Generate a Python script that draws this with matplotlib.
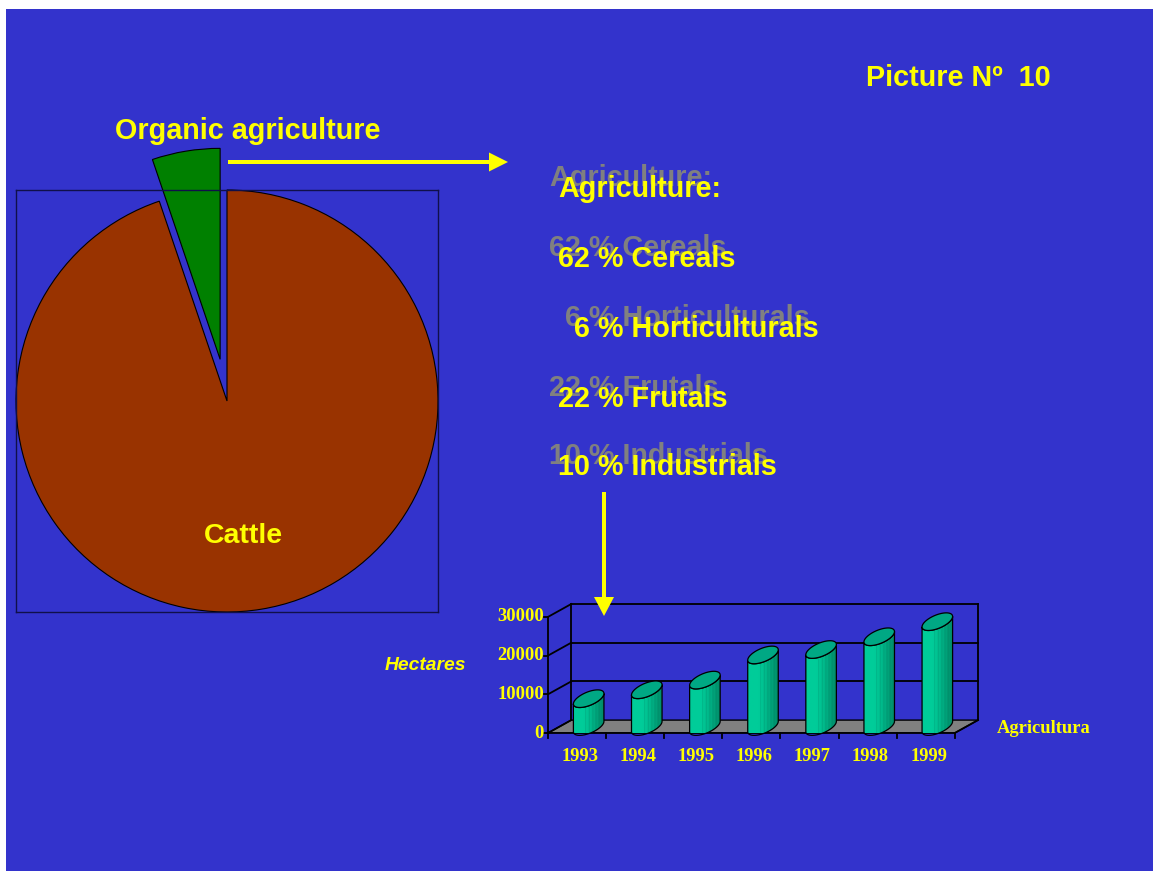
import numpy as np
import matplotlib
matplotlib.use("Agg")
import matplotlib.pyplot as plt
from matplotlib.patches import Rectangle, Polygon
import matplotlib.colors as mcolors

# ---- data ----
pie_labels = ['Organic agriculture', 'Cattle']
pie_shares = [5.2, 94.8]

agri_lines = ['Agriculture:', '62 % Cereals', '  6 % Horticulturals', '22 % Frutals', '10 % Industrials']

years = ['1993', '1994', '1995', '1996', '1997', '1998', '1999']
hectares = [7200, 9500, 12000, 18500, 19900, 23200, 27100]
yticks = [0, 10000, 20000, 30000]
series_name = 'Agricultura'
y_title = 'Hectares'
slide_title = 'Picture Nº  10'

# ---- style ----
BLUE = '#3333CC'
YEL = '#FFFF00'
W, H = 1153, 871
plt.rcParams['font.family'] = ['Liberation Sans', 'DejaVu Sans']

fig = plt.figure(figsize=(W / 100, H / 100), dpi=100)
fig.patch.set_facecolor('white')
fig.patches.append(Rectangle((6, 0), W - 6, H - 9, transform=None,
                             facecolor=BLUE, edgecolor='none', zorder=-5))


def fig_rect(x0, y0, x1, y1):
    return [x0 / W, 1 - y1 / H, (x1 - x0) / W, (y1 - y0) / H]


# ---- pie ----
axp = fig.add_axes(fig_rect(16, 190, 438, 612), zorder=2)
wedges, _ = axp.pie(pie_shares, colors=['#008000', '#993300'], startangle=90,
                    counterclock=True, explode=[0.2, 0], radius=1, frame=True,
                    wedgeprops=dict(edgecolor='black', linewidth=0.8))
for w in wedges:
    w.set_clip_on(False)
axp.set_facecolor(BLUE)
axp.set_frame_on(True)
for s in axp.spines.values():
    s.set_visible(True)
    s.set_color('#10104a')
    s.set_linewidth(1.0)
axp.set_xticks([])
axp.set_yticks([])
axp.set_xlim(-1, 1)
axp.set_ylim(-1, 1)
axp.text(0.076, -0.64, pie_labels[1], color=YEL, fontsize=20.5, fontweight='bold',
         ha='center', va='center')

# ---- pseudo 3D cylinder chart ----
axb = fig.add_axes(fig_rect(548, 604, 978, 733), zorder=2)
axb.axis('off')
DX, DY = 0.4, 3333.0
n = len(years)
x0, x1 = -0.5, n - 0.5
px = 30000 / 117.0  # value units per pixel

floor = Polygon([(x0, 0), (x1, 0), (x1 + DX, DY), (x0 + DX, DY)],
                closed=True, facecolor='#808080', edgecolor='black', lw=1.0, zorder=1)
axb.add_patch(floor)
lk = dict(color='black', lw=1.3, clip_on=False, zorder=1.5)
for v in yticks:
    if v > 0:
        axb.plot([x0 + DX, x1 + DX], [v + DY, v + DY], **lk)
    axb.plot([x0, x0 + DX], [v, v + DY], **lk)
    axb.plot([x0 - 0.07, x0], [v, v], **lk)
    axb.text(x0 - 0.07, v, f'{v}', ha='right', va='center', color=YEL,
             fontsize=13.3, fontweight='bold', family='Liberation Serif')
axb.plot([x0 + DX, x0 + DX], [DY, yticks[-1] + DY], **lk)
axb.plot([x1 + DX, x1 + DX], [DY, yticks[-1] + DY], **lk)
axb.plot([x0, x0], [0, yticks[-1]], **lk)
axb.plot([x0, x1], [0, 0], **lk)
axb.plot([x1, x1 + DX], [0, DY], **lk)
for i in range(n + 1):
    axb.plot([i - 0.5, i - 0.5], [0, -5 * px], **lk)
for i, yr in enumerate(years):
    axb.text(i + 0.05, -28 * px, yr, ha='center', va='baseline', color=YEL,
             fontsize=13.3, fontweight='bold', family='Liberation Serif')
axb.text(x1 + 0.72, 0, series_name, ha='left', va='baseline', color=YEL,
         fontsize=13.3, fontweight='bold', family='Liberation Serif')

UX, UY = 0.258, 1667.0
VX, VY = -0.05, 1550.0
t0 = np.arctan2(VX, UX)
ext_x = np.hypot(UX, VX)
ext_y = np.hypot(UY, VY)

# horizontal shading for cylinder bodies
light = np.array(mcolors.to_rgb('#00CC99'))
dark = np.array(mcolors.to_rgb('#008F6B'))
s = np.linspace(0, 1, 60)
mix = np.clip((s - 0.35) / 0.6, 0, 1) ** 1.2
grad = light[None, :] * (1 - mix[:, None]) + dark[None, :] * mix[:, None]
for k in (24, 31, 38, 44, 50):
    grad[k] = grad[k] * 0.82
grad = grad[None, :, :]


def ell(cx, cy, t):
    return (cx + UX * np.cos(t) + VX * np.sin(t),
            cy + UY * np.cos(t) + VY * np.sin(t))


for i, v in enumerate(hectares):
    cx = i + DX / 2
    yb = DY / 2
    yt = v + DY / 2
    tf = np.linspace(t0 + np.pi, t0 + 2 * np.pi, 60)
    bx, by = ell(cx, yb, tf)
    tx, ty = ell(cx, yt, tf[::-1])
    body = np.column_stack([np.concatenate([bx, tx]), np.concatenate([by, ty])])
    bpatch = Polygon(body, closed=True, facecolor='none', edgecolor='black',
                     lw=0.9, zorder=4, clip_on=False)
    axb.add_patch(bpatch)
    im = axb.imshow(grad, extent=[cx - ext_x, cx + ext_x, yb - ext_y, yt + ext_y],
                    aspect='auto', zorder=3, interpolation='bilinear')
    im.set_clip_path(bpatch)
    ta = np.linspace(0, 2 * np.pi, 80)
    ex, ey = ell(cx, yt, ta)
    axb.add_patch(Polygon(np.column_stack([ex, ey]), closed=True,
                          facecolor='#00A884', edgecolor='black', lw=0.9,
                          zorder=5, clip_on=False))
axb.set_xlim(x0, x1 + DX)
axb.set_ylim(0, yticks[-1] + DY)

# ---- overlay: texts and arrows in pixel coordinates ----
axo = fig.add_axes([0, 0, 1, 1], zorder=10)
axo.set_xlim(0, W)
axo.set_ylim(H, 0)
axo.axis('off')

big = dict(fontsize=20.7, fontweight='bold', va='baseline', ha='left')
axo.text(866, 86, slide_title, color=YEL, **big)
axo.text(115, 139, pie_labels[0], color=YEL, **big)
base_y = [197, 267, 337, 407, 475]
for line, by in zip(agri_lines, base_y):
    axo.text(549, by - 11, line, color='#808080', **big)
    axo.text(558, by, line, color=YEL, **big)
axo.text(385, 670, y_title, color=YEL, fontsize=13.9, fontweight='bold',
         fontstyle='italic', ha='left', va='baseline')

axo.arrow(228, 162, 280, 0, width=4, head_width=19, head_length=19,
          length_includes_head=True, color=YEL, lw=0)
axo.arrow(604, 492, 0, 124, width=4, head_width=20, head_length=19,
          length_includes_head=True, color=YEL, lw=0)

fig.savefig('out.png', dpi=100)
